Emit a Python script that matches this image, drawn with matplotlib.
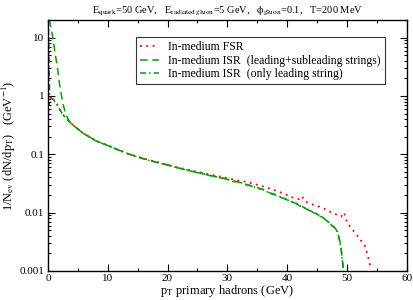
import numpy as np
import matplotlib
matplotlib.use("Agg")
import matplotlib.pyplot as plt
from matplotlib.ticker import FixedLocator, FuncFormatter, LogLocator, NullFormatter

plt.rcParams['font.family'] = ['Liberation Serif', 'DejaVu Serif']
plt.rcParams['mathtext.fontset'] = 'stix'

# low-pT part of each curve
low_pt = [0.1, 0.3, 0.5, 0.75, 1.0, 1.25, 1.5, 1.75, 2.0, 2.5, 3.0, 3.5]
fsr_low = [0.55, 0.9, 1.0, 0.92, 0.85, 0.78, 0.73, 0.65, 0.58, 0.48, 0.42, 0.37]
isr_all_low = [20.0, 19.0, 15.0, 11.0, 7.5, 5.0, 3.6, 2.3, 1.45, 0.75, 0.48, 0.38]
isr_lead_low = [14.0, 1.0, 0.95, 0.9, 0.85, 0.78, 0.72, 0.65, 0.58, 0.48, 0.42, 0.37]

# common tail (pT >= 4 GeV)
tail_pt = [4, 5, 6, 7, 8, 9, 10, 11, 12, 13, 14, 15, 16, 17, 18, 19, 20,
           21, 22, 23, 24, 25, 26, 27, 28, 29, 30, 31, 32, 33, 34, 35, 36,
           37, 38, 39, 40, 40.5, 41, 41.5, 42, 42.5, 43, 43.5, 44, 44.5,
           45, 45.5, 46, 46.5, 47, 47.5, 48, 48.5, 49, 49.5]
isr_tail = [0.33, 0.27, 0.226, 0.196, 0.17, 0.156, 0.141, 0.129, 0.116, 0.106,
            0.097, 0.091, 0.083, 0.080, 0.073, 0.070, 0.065, 0.062, 0.057,
            0.055, 0.051, 0.049, 0.046, 0.044, 0.041, 0.040, 0.037, 0.035,
            0.033, 0.031, 0.0285, 0.027, 0.0245, 0.022, 0.0205, 0.018,
            0.0168, 0.0158, 0.015, 0.0142, 0.0133, 0.0128, 0.0118, 0.0113,
            0.0104, 0.0099, 0.0094, 0.0088, 0.0082, 0.0074, 0.0068, 0.0061,
            0.0054, 0.0046, 0.0026, 0.0008]
isr_lead_tail = [0.33, 0.272, 0.224, 0.197, 0.171, 0.154, 0.142, 0.128, 0.117,
                 0.105, 0.098, 0.090, 0.084, 0.078, 0.074, 0.069, 0.066,
                 0.061, 0.058, 0.054, 0.052, 0.048, 0.047, 0.043, 0.042,
                 0.039, 0.038, 0.034, 0.034, 0.030, 0.029, 0.026, 0.025,
                 0.0215, 0.020, 0.0185, 0.0165, 0.016, 0.0148, 0.0145,
                 0.0131, 0.0125, 0.012, 0.011, 0.0106, 0.0097, 0.0095, 0.0086,
                 0.0083, 0.0072, 0.0069, 0.0059, 0.0055, 0.0044, 0.0024, 0.0009]

fsr_pt = [4, 5, 6, 7, 8, 9, 10, 11, 12, 13, 14, 15, 16, 17, 18, 19, 20,
          21, 22, 23, 24, 25, 26, 27, 28, 29, 30, 31, 32, 33, 34, 35, 36,
          37, 38, 39, 40, 41, 42, 42.5, 43, 44, 45, 46, 47, 48, 49, 49.5,
          50, 50.5, 51, 51.5, 52, 52.5, 53, 53.5, 54]
fsr_tail = [0.33, 0.27, 0.225, 0.198, 0.17, 0.155, 0.143, 0.128, 0.118, 0.106,
            0.097, 0.091, 0.085, 0.079, 0.075, 0.070, 0.066, 0.062, 0.058,
            0.056, 0.052, 0.050, 0.048, 0.045, 0.043, 0.041, 0.039, 0.037,
            0.035, 0.034, 0.032, 0.030, 0.028, 0.026, 0.024, 0.022, 0.020,
            0.018, 0.017, 0.019, 0.0155, 0.014, 0.013, 0.012, 0.0105, 0.0095,
            0.0085, 0.010, 0.0068, 0.0058, 0.005, 0.0042, 0.0038, 0.0031,
            0.0027, 0.0018, 0.0011]

red = '#ff0000'
green = '#0c9a0c'

fig = plt.figure(figsize=(4.13, 3.0), dpi=100)
ax = fig.add_axes([0.116, 0.097, 0.869, 0.836])

ax.plot(low_pt + fsr_pt, fsr_low + fsr_tail, color=red, ls=(0, (1, 2.5)),
        lw=1.3, label='In-medium FSR')
ax.plot(low_pt + tail_pt, isr_all_low + isr_tail, color=green, ls=(0, (5, 3)),
        lw=1.1, label='In-medium ISR  (leading+subleading strings)')
ax.plot(low_pt + tail_pt, isr_lead_low + isr_lead_tail, color=green,
        ls=(0, (4, 2, 1, 2)), lw=1.1,
        label='In-medium ISR  (only leading string)')

ax.set_yscale('log')
ax.set_xlim(0, 60)
ax.set_ylim(0.001, 20)

ax.xaxis.set_major_locator(FixedLocator([0, 10, 20, 30, 40, 50, 60]))
ax.xaxis.set_minor_locator(FixedLocator([5, 15, 25, 35, 45, 55]))
ax.yaxis.set_major_locator(LogLocator(base=10))
ax.yaxis.set_minor_locator(LogLocator(base=10, subs=np.arange(2, 10)))
ax.yaxis.set_minor_formatter(NullFormatter())
ax.yaxis.set_major_formatter(FuncFormatter(lambda v, p: '%g' % v))

ax.tick_params(which='both', direction='in', top=True, right=True,
               labelsize=8, width=0.8, pad=2.5)
ax.tick_params(which='major', length=5)
ax.tick_params(which='minor', length=2.5)
for s in ax.spines.values():
    s.set_linewidth(1.0)

ax.set_xlabel(r'p$_\mathrm{T}$ primary hadrons (GeV)', fontsize=9, labelpad=0)
ax.set_ylabel(r'1/N$_\mathrm{ev}$ (dN/dp$_\mathrm{T}$)   (GeV$^{-1}$)',
              fontsize=9, labelpad=1)

fig.text(0.55, 0.962,
         r'E$_\mathrm{quark}$=50 GeV,   E$_\mathrm{radiated\ gluon}$=5 GeV,   '
         r'$\mathrm{\phi}_\mathrm{gluon}$=0.1,   T=200 MeV',
         ha='center', va='center', fontsize=7.5)

leg = ax.legend(loc='upper right', bbox_to_anchor=(0.955, 0.955),
                fontsize=8.5, frameon=True, fancybox=False, handlelength=1.6,
                borderpad=0.35, labelspacing=0.12, handletextpad=0.8)
leg.get_frame().set_edgecolor('black')
leg.get_frame().set_linewidth(0.8)

fig.savefig('out.png', dpi=100)
